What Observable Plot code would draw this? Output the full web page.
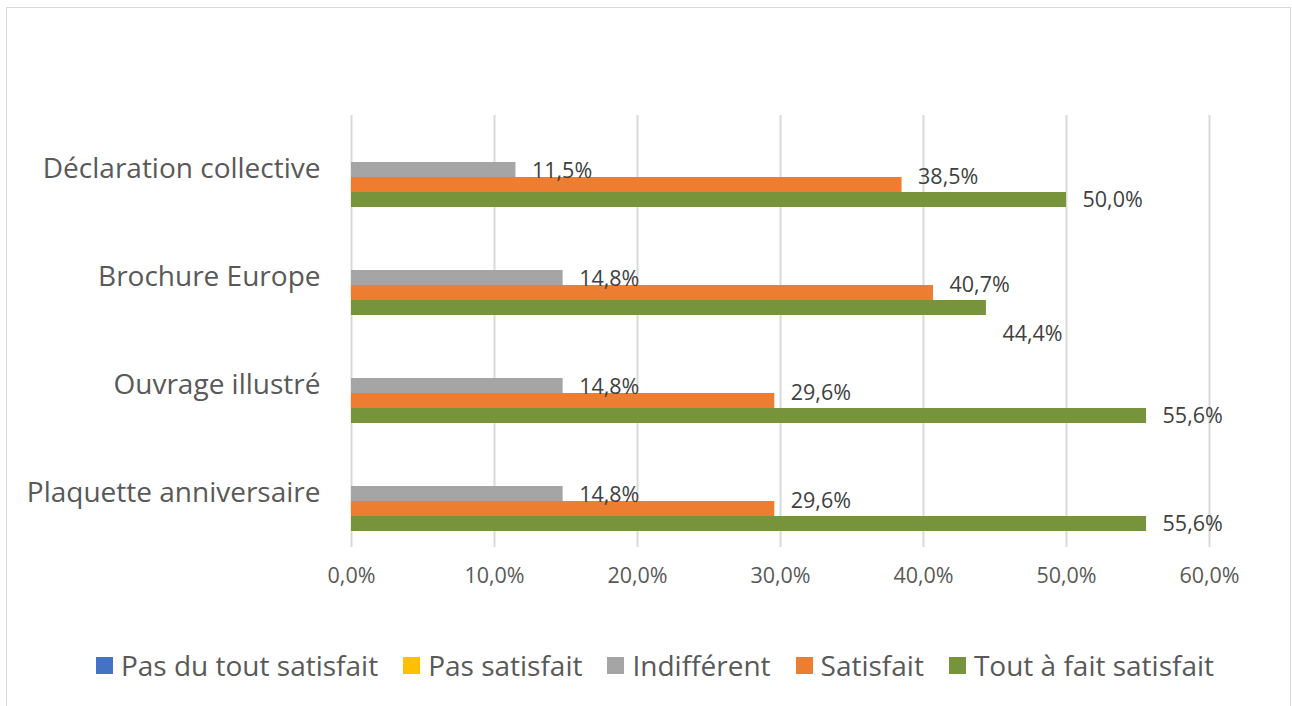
<!DOCTYPE html>
<html><head><meta charset="utf-8">
<script src="https://cdn.jsdelivr.net/npm/d3@7"></script>
<script src="https://cdn.jsdelivr.net/npm/@observablehq/plot@0.6"></script>
<style>
html,body{margin:0;padding:0;overflow:hidden;background:#fff;width:1292px;height:706px;}
#frame{position:absolute;left:6px;top:7px;width:1285px;height:760px;border:1px solid #d9d9d9;box-sizing:border-box;}
#chart{position:absolute;left:0;top:0;}
#legend{position:absolute;left:0;top:647px;width:1292px;height:36px;display:flex;justify-content:center;align-items:center;padding-left:18px;box-sizing:border-box;font-family:"Open Sans",sans-serif;font-size:28px;color:#595959;}
.item{display:flex;align-items:center;margin:0 12.5px;}
.sw{width:17px;height:17px;margin-right:8px;}
</style></head>
<body>
<div id="frame"></div>
<div id="chart"></div>
<div id="legend"></div>
<script>
const categories = ["Déclaration collective", "Brochure Europe", "Ouvrage illustré", "Plaquette anniversaire"];
const series = ["Pas du tout satisfait", "Pas satisfait", "Indifférent", "Satisfait", "Tout à fait satisfait"];
const pasDuToutSatisfait = [0, 0, 0, 0];
const pasSatisfait = [0, 0, 0, 0];
const indifferent = [0.115, 0.148, 0.148, 0.148];
const satisfait = [0.385, 0.407, 0.296, 0.296];
const toutAFaitSatisfait = [0.500, 0.444, 0.556, 0.556];
const xTicks = [0, 0.1, 0.2, 0.3, 0.4, 0.5, 0.6];
const colors = ["#4472C4", "#FFC000", "#A5A5A5", "#ED7D31", "#77933C"];

const seriesValues = [pasDuToutSatisfait, pasSatisfait, indifferent, satisfait, toutAFaitSatisfait];
const table = [];
series.forEach((s, si) => categories.forEach((c, ci) => table.push({series: s, category: c, value: seriesValues[si][ci]})));
const fmt = v => (v * 100).toFixed(1).replace(".", ",") + "%";
const labelled = table.filter(d => d.value > 0);

const labelStyle = {x: "value", y: "series", fy: "category", text: d => fmt(d.value), dx: 16, textAnchor: "start", fill: "#404040", fontSize: 21.5};

const chart = Plot.plot({
  width: 1292, height: 620,
  marginLeft: 351, marginRight: 83, marginTop: 115, marginBottom: 73,
  style: {fontFamily: "'Open Sans', sans-serif", fontSize: "21.5px", color: "#595959", background: "transparent"},
  x: {domain: [0, 0.6], ticks: xTicks, tickFormat: fmt, tickSize: 0, tickPadding: 20, label: null},
  y: {domain: series, paddingInner: 0, paddingOuter: 0.94, axis: null},
  fy: {domain: categories, padding: 0, axis: null},
  color: {domain: series, range: colors},
  marks: [
    Plot.ruleX(xTicks, {stroke: "#d9d9d9", strokeWidth: 2}),
    Plot.barX(table, {x: "value", y: "series", fy: "category", fill: "series"}),
    Plot.text(labelled.filter(d => d.series === "Indifférent"), {...labelStyle, dy: 1}),
    Plot.text(labelled.filter(d => d.series === "Satisfait"), {...labelStyle, dy: -8}),
    Plot.text(labelled.filter(d => d.series === "Tout à fait satisfait" && d.category !== "Brochure Europe"), {...labelStyle, dy: 0}),
    Plot.text(labelled.filter(d => d.series === "Tout à fait satisfait" && d.category === "Brochure Europe"), {...labelStyle, dy: 26}),
    Plot.text(categories, {fy: d => d, text: d => d, frameAnchor: "left", dx: -31, textAnchor: "end", fontSize: 28, fill: "#595959"})
  ]
});
document.getElementById("chart").appendChild(chart);

const legend = document.getElementById("legend");
series.forEach((s, i) => {
  const it = document.createElement("div"); it.className = "item";
  const sw = document.createElement("div"); sw.className = "sw"; sw.style.background = colors[i];
  const tx = document.createElement("span"); tx.textContent = s;
  it.appendChild(sw); it.appendChild(tx); legend.appendChild(it);
});
</script>
</body></html>
